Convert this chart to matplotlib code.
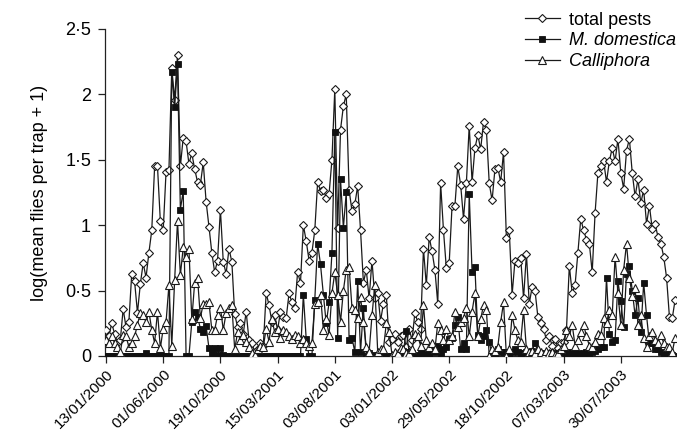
import matplotlib
matplotlib.use("Agg")
import matplotlib.pyplot as plt
import numpy as np

plt.rcParams['font.family'] = ['Liberation Sans', 'DejaVu Sans']

tick_labels = ["13/01/2000", "01/06/2000", "19/10/2000", "15/03/2001", "03/08/2001",
               "03/01/2002", "29/05/2002", "18/10/2002", "07/03/2003", "30/07/2003"]
tick_every = 20

total_pests = [
    0.20, 0.15, 0.25, 0.17, 0.10, 0.12, 0.36, 0.22, 0.26, 0.63,
    0.57, 0.33, 0.55, 0.71, 0.60, 0.79, 0.96, 1.45, 1.45, 1.03,
    0.96, 1.41, 1.42, 2.20, 1.96, 2.30, 1.45, 1.67, 1.64, 1.47,
    1.55, 1.43, 1.33, 1.31, 1.48, 1.18, 0.99, 0.79, 0.64, 0.73,
    1.12, 0.72, 0.63, 0.82, 0.72, 0.32, 0.22, 0.25, 0.17, 0.34,
    0.12, 0.10, 0.03, 0.05, 0.10, 0.08, 0.48, 0.39, 0.26, 0.31,
    0.20, 0.34, 0.30, 0.29, 0.48, 0.41, 0.37, 0.64, 0.56, 1.00,
    0.88, 0.73, 0.79, 0.96, 1.33, 1.26, 1.27, 1.21, 1.24, 1.50,
    2.04, 0.98, 1.73, 1.91, 2.00, 1.27, 1.11, 1.16, 1.30, 0.96,
    0.56, 0.66, 0.44, 0.73, 0.44, 0.48, 0.27, 0.40, 0.47, 0.11,
    0.13, 0.17, 0.11, 0.15, 0.16, 0.07, 0.21, 0.12, 0.33, 0.26,
    0.21, 0.82, 0.54, 0.91, 0.80, 0.66, 0.40, 1.32, 0.96, 0.67,
    0.71, 1.15, 1.15, 1.45, 1.31, 1.05, 1.32, 1.76, 1.33, 1.59,
    1.69, 1.58, 1.79, 1.73, 1.32, 1.19, 1.43, 1.44, 1.33, 1.56,
    0.90, 0.96, 0.47, 0.73, 0.71, 0.75, 0.44, 0.78, 0.40, 0.53,
    0.50, 0.30, 0.25, 0.21, 0.12, 0.15, 0.08, 0.13, 0.06, 0.10,
    0.11, 0.20, 0.69, 0.48, 0.54, 0.79, 1.05, 0.96, 0.89, 0.86,
    0.64, 1.09, 1.40, 1.45, 1.49, 1.33, 1.49, 1.59, 1.49, 1.66,
    1.40, 1.28, 1.57, 1.66, 1.40, 1.22, 1.35, 1.17, 1.27, 1.01,
    1.15, 0.97, 1.01, 0.91, 0.86, 0.76, 0.60, 0.30, 0.29, 0.43,
]

m_domestica = [
    0.00, 0.00, 0.00, 0.00, 0.00, 0.00, 0.00, 0.00, 0.00, 0.00,
    0.00, 0.00, 0.00, 0.00, 0.02, 0.00, 0.00, 0.00, 0.00, 0.00,
    0.00, 0.00, 0.00, 2.17, 1.90, 2.23, 1.12, 1.26, 0.00, 0.00,
    0.26, 0.34, 0.30, 0.21, 0.18, 0.23, 0.06, 0.02, 0.06, 0.01,
    0.06, 0.01, 0.00, 0.00, 0.00, 0.00, 0.00, 0.00, 0.00, 0.00,
    0.00, 0.00, 0.00, 0.00, 0.00, 0.00, 0.00, 0.00, 0.00, 0.00,
    0.00, 0.00, 0.00, 0.00, 0.00, 0.00, 0.00, 0.00, 0.00, 0.47,
    0.13, 0.00, 0.00, 0.43, 0.86, 0.70, 0.47, 0.25, 0.41, 0.79,
    1.71, 0.14, 1.35, 0.98, 1.25, 0.12, 0.14, 0.03, 0.57, 0.03,
    0.37, 0.00, 0.02, 0.01, 0.00, 0.01, 0.00, 0.00, 0.00, 0.00,
    0.00, 0.01, 0.00, 0.02, 0.04, 0.19, 0.03, 0.02, 0.00, 0.01,
    0.02, 0.03, 0.02, 0.01, 0.05, 0.03, 0.08, 0.02, 0.05, 0.07,
    0.13, 0.14, 0.24, 0.30, 0.05, 0.10, 0.05, 1.24, 0.64, 0.68,
    0.16, 0.12, 0.15, 0.20, 0.11, 0.00, 0.00, 0.05, 0.03, 0.03,
    0.03, 0.02, 0.03, 0.05, 0.03, 0.02, 0.02, 0.03, 0.02, 0.04,
    0.10, 0.03, 0.02, 0.01, 0.01, 0.02, 0.01, 0.02, 0.01, 0.03,
    0.03, 0.02, 0.03, 0.02, 0.01, 0.02, 0.01, 0.02, 0.03, 0.02,
    0.03, 0.04, 0.05, 0.07, 0.07, 0.60, 0.17, 0.11, 0.12, 0.57,
    0.42, 0.22, 0.63, 0.69, 0.50, 0.31, 0.44, 0.18, 0.56, 0.31,
    0.10, 0.10, 0.05, 0.05, 0.03, 0.02, 0.01, 0.02, 0.01, 0.00,
]

calliphora = [
    0.12, 0.10, 0.15, 0.10, 0.07, 0.03, 0.16, 0.15, 0.07, 0.10,
    0.15, 0.24, 0.33, 0.31, 0.26, 0.34, 0.20, 0.10, 0.34, 0.06,
    0.21, 0.26, 0.54, 0.08, 0.58, 1.03, 0.62, 0.83, 0.76, 0.82,
    0.28, 0.56, 0.60, 0.29, 0.40, 0.40, 0.41, 0.20, 0.20, 0.31,
    0.37, 0.20, 0.33, 0.37, 0.39, 0.05, 0.18, 0.12, 0.16, 0.11,
    0.07, 0.02, 0.01, 0.05, 0.08, 0.07, 0.21, 0.11, 0.28, 0.18,
    0.21, 0.14, 0.20, 0.18, 0.15, 0.13, 0.16, 0.15, 0.10, 0.13,
    0.10, 0.08, 0.10, 0.40, 0.41, 0.47, 0.20, 0.28, 0.16, 0.48,
    0.64, 0.47, 0.26, 0.50, 0.66, 0.68, 0.37, 0.35, 0.29, 0.45,
    0.26, 0.07, 0.03, 0.31, 0.54, 0.03, 0.05, 0.05, 0.25, 0.18,
    0.01, 0.03, 0.02, 0.06, 0.05, 0.02, 0.02, 0.05, 0.17, 0.15,
    0.08, 0.39, 0.12, 0.07, 0.10, 0.05, 0.25, 0.20, 0.12, 0.21,
    0.12, 0.15, 0.34, 0.22, 0.26, 0.29, 0.37, 0.15, 0.34, 0.48,
    0.15, 0.28, 0.39, 0.35, 0.00, 0.05, 0.04, 0.07, 0.26, 0.41,
    0.00, 0.05, 0.31, 0.20, 0.12, 0.11, 0.35, 0.05, 0.03, 0.04,
    0.02, 0.05, 0.03, 0.01, 0.04, 0.02, 0.03, 0.01, 0.02, 0.05,
    0.08, 0.20, 0.15, 0.24, 0.08, 0.12, 0.18, 0.24, 0.15, 0.08,
    0.07, 0.11, 0.17, 0.16, 0.29, 0.25, 0.35, 0.31, 0.76, 0.48,
    0.24, 0.66, 0.86, 0.60, 0.46, 0.52, 0.24, 0.31, 0.14, 0.07,
    0.15, 0.18, 0.12, 0.10, 0.16, 0.10, 0.07, 0.07, 0.03, 0.14,
]

n = len(total_pests)
x = np.arange(n)

fig = plt.figure(figsize=(6.77, 4.37), dpi=100)
ax = fig.add_axes([105/677, 81/437, 572/677, 327/437])

lc = '#1a1a1a'
ax.plot(x, total_pests, color=lc, lw=0.9, marker='D', ms=4.5, mfc='white',
        mec=lc, mew=0.8, label='total pests', zorder=3)
ax.plot(x, m_domestica, color=lc, lw=0.9, marker='s', ms=4.5, mfc='#111111',
        mec='#111111', mew=0.6, label='M. domestica', zorder=4)
ax.plot(x, calliphora, color=lc, lw=0.9, marker='^', ms=5.3, mfc='white',
        mec=lc, mew=0.8, label='Calliphora', zorder=5)

ax.set_ylim(0, 2.5)
ax.set_xlim(-0.35, -0.35 + 572/2.86)
ax.set_yticks([0, 0.5, 1, 1.5, 2, 2.5])
ax.set_yticklabels(['0', '0·5', '1', '1·5', '2', '2·5'], fontsize=13)
ticks = np.arange(len(tick_labels)) * tick_every
ax.set_xticks(ticks)
ax.set_xticklabels(tick_labels, rotation=45, ha='right', va='top',
                   rotation_mode='anchor', fontsize=11)
ax.tick_params(axis='both', direction='out', length=5, width=0.9, color='#222222')
ax.tick_params(axis='y', pad=5)
ax.tick_params(axis='x', pad=3)
for s in ['top', 'right']:
    ax.spines[s].set_visible(False)
for s in ['left', 'bottom']:
    ax.spines[s].set_linewidth(0.9)
    ax.spines[s].set_color('#222222')

ax.set_ylabel('log(mean flies per trap + 1)', fontsize=13, labelpad=12)

leg = ax.legend(loc='upper left', bbox_to_anchor=((518 - 105) / 572, 1.075),
                frameon=False, fontsize=13, handlelength=1.9, handletextpad=0.5,
                labelspacing=0.2, borderaxespad=0)
for t in leg.get_texts()[1:]:
    t.set_fontstyle('italic')

fig.savefig('out.png', dpi=100)
